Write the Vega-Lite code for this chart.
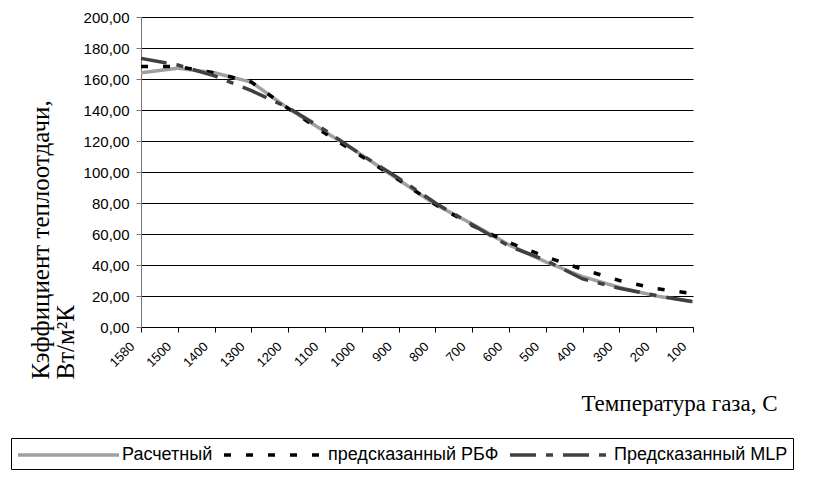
{
  "$schema": "https://vega.github.io/schema/vega-lite/v6.json",
  "width": 552,
  "height": 310,
  "autosize": {"type": "none"},
  "padding": {"left": 141, "top": 17, "right": 120, "bottom": 170},
  "background": "white",
  "config": {
    "view": {"stroke": null},
    "legend": {
      "orient": "none",
      "legendX": -130,
      "legendY": 421,
      "direction": "horizontal",
      "strokeColor": "black",
      "fillColor": "white",
      "padding": 5,
      "cornerRadius": 0,
      "labelFont": "Liberation Sans",
      "labelFontSize": 18,
      "labelColor": "black",
      "labelLimit": 400,
      "symbolType": "M-1,0H9.1",
      "symbolStrokeWidth": 3.5,
      "symbolSize": 400,
      "columnPadding": 4,
      "labelOffset": 82
    }
  },
  "data": {
    "values": [
      {"t": "1580", "s": "Расчетный", "v": 164},
      {"t": "1500", "s": "Расчетный", "v": 167},
      {"t": "1400", "s": "Расчетный", "v": 164},
      {"t": "1300", "s": "Расчетный", "v": 158},
      {"t": "1200", "s": "Расчетный", "v": 141},
      {"t": "1100", "s": "Расчетный", "v": 126},
      {"t": "1000", "s": "Расчетный", "v": 111},
      {"t": "900", "s": "Расчетный", "v": 95},
      {"t": "800", "s": "Расчетный", "v": 79},
      {"t": "700", "s": "Расчетный", "v": 66.5},
      {"t": "600", "s": "Расчетный", "v": 53},
      {"t": "500", "s": "Расчетный", "v": 42},
      {"t": "400", "s": "Расчетный", "v": 32.5},
      {"t": "300", "s": "Расчетный", "v": 25.5},
      {"t": "200", "s": "Расчетный", "v": 20},
      {"t": "100", "s": "Расчетный", "v": 16.3},
      {"t": "1580", "s": "предсказанный РБФ", "v": 168},
      {"t": "1500", "s": "предсказанный РБФ", "v": 168},
      {"t": "1400", "s": "предсказанный РБФ", "v": 164},
      {"t": "1300", "s": "предсказанный РБФ", "v": 158},
      {"t": "1200", "s": "предсказанный РБФ", "v": 141},
      {"t": "1100", "s": "предсказанный РБФ", "v": 125},
      {"t": "1000", "s": "предсказанный РБФ", "v": 110},
      {"t": "900", "s": "предсказанный РБФ", "v": 95},
      {"t": "800", "s": "предсказанный РБФ", "v": 79},
      {"t": "700", "s": "предсказанный РБФ", "v": 65.5},
      {"t": "600", "s": "предсказанный РБФ", "v": 54.5},
      {"t": "500", "s": "предсказанный РБФ", "v": 45.3},
      {"t": "400", "s": "предсказанный РБФ", "v": 37.2},
      {"t": "300", "s": "предсказанный РБФ", "v": 30},
      {"t": "200", "s": "предсказанный РБФ", "v": 24.8},
      {"t": "100", "s": "предсказанный РБФ", "v": 21.5},
      {"t": "1580", "s": "Предсказанный MLP", "v": 173.3},
      {"t": "1500", "s": "Предсказанный MLP", "v": 169},
      {"t": "1400", "s": "Предсказанный MLP", "v": 162},
      {"t": "1300", "s": "Предсказанный MLP", "v": 152.5},
      {"t": "1200", "s": "Предсказанный MLP", "v": 141.5},
      {"t": "1100", "s": "Предсказанный MLP", "v": 127},
      {"t": "1000", "s": "Предсказанный MLP", "v": 111},
      {"t": "900", "s": "Предсказанный MLP", "v": 96},
      {"t": "800", "s": "Предсказанный MLP", "v": 80},
      {"t": "700", "s": "Предсказанный MLP", "v": 66},
      {"t": "600", "s": "Предсказанный MLP", "v": 52.2},
      {"t": "500", "s": "Предсказанный MLP", "v": 43},
      {"t": "400", "s": "Предсказанный MLP", "v": 31},
      {"t": "300", "s": "Предсказанный MLP", "v": 25},
      {"t": "200", "s": "Предсказанный MLP", "v": 20.3},
      {"t": "100", "s": "Предсказанный MLP", "v": 16.3}
    ]
  },
  "mark": {"type": "line", "strokeWidth": 3.5},
  "encoding": {
    "x": {
      "field": "t",
      "type": "ordinal",
      "sort": ["1580", "1500", "1400", "1300", "1200", "1100", "1000", "900", "800", "700", "600", "500", "400", "300", "200", "100"],
      "scale": {"type": "point", "padding": 0},
      "axis": {
        "labelAngle": -45,
        "labelAlign": "right",
        "labelBaseline": "middle",
        "labelFont": "Liberation Sans",
        "labelFontSize": 13,
        "labelColor": "black",
        "labelPadding": 12,
        "labelOffset": -9,
        "grid": false,
        "domainColor": "black",
        "tickColor": "black",
        "tickSize": 5,
        "title": "Температура газа, С",
        "titleFont": "Liberation Serif",
        "titleFontSize": 23,
        "titleFontWeight": "normal",
        "titleColor": "black",
        "titleAngle": 0,
        "titleX": 636,
        "titleY": 83,
        "titleAlign": "right",
        "titleBaseline": "alphabetic"
      }
    },
    "y": {
      "field": "v",
      "type": "quantitative",
      "scale": {"domain": [0, 200]},
      "axis": {
        "values": [0, 20, 40, 60, 80, 100, 120, 140, 160, 180, 200],
        "labelExpr": "replace(format(datum.value, '.2f'), '.', ',')",
        "grid": true,
        "gridColor": "black",
        "gridWidth": 1,
        "domainColor": "#777777",
        "tickColor": "#777777",
        "tickSize": 5,
        "labelFont": "Liberation Sans",
        "labelFontSize": 15,
        "labelColor": "black",
        "labelPadding": 7,
        "title": ["Кэффициент теплоотдачи,", "\u2003Вт/м²К"],
        "titleFont": "Liberation Serif",
        "titleFontSize": 25,
        "titleFontWeight": "normal",
        "titleColor": "black",
        "titleAngle": 270,
        "titleAlign": "left",
        "titleBaseline": "alphabetic",
        "titleX": -93,
        "titleY": 362,
        "titleLineHeight": 25
      }
    },
    "color": {
      "field": "s",
      "type": "nominal",
      "scale": {
        "domain": ["Расчетный", "предсказанный РБФ", "Предсказанный MLP"],
        "range": ["#a0a0a0", "#000000", "#404040"]
      },
      "legend": {"title": null}
    },
    "strokeDash": {
      "field": "s",
      "type": "nominal",
      "scale": {
        "domain": ["Расчетный", "предсказанный РБФ", "Предсказанный MLP"],
        "range": [[1, 0], [7, 15], [26, 10, 7, 10]]
      },
      "legend": {"title": null}
    }
  }
}
